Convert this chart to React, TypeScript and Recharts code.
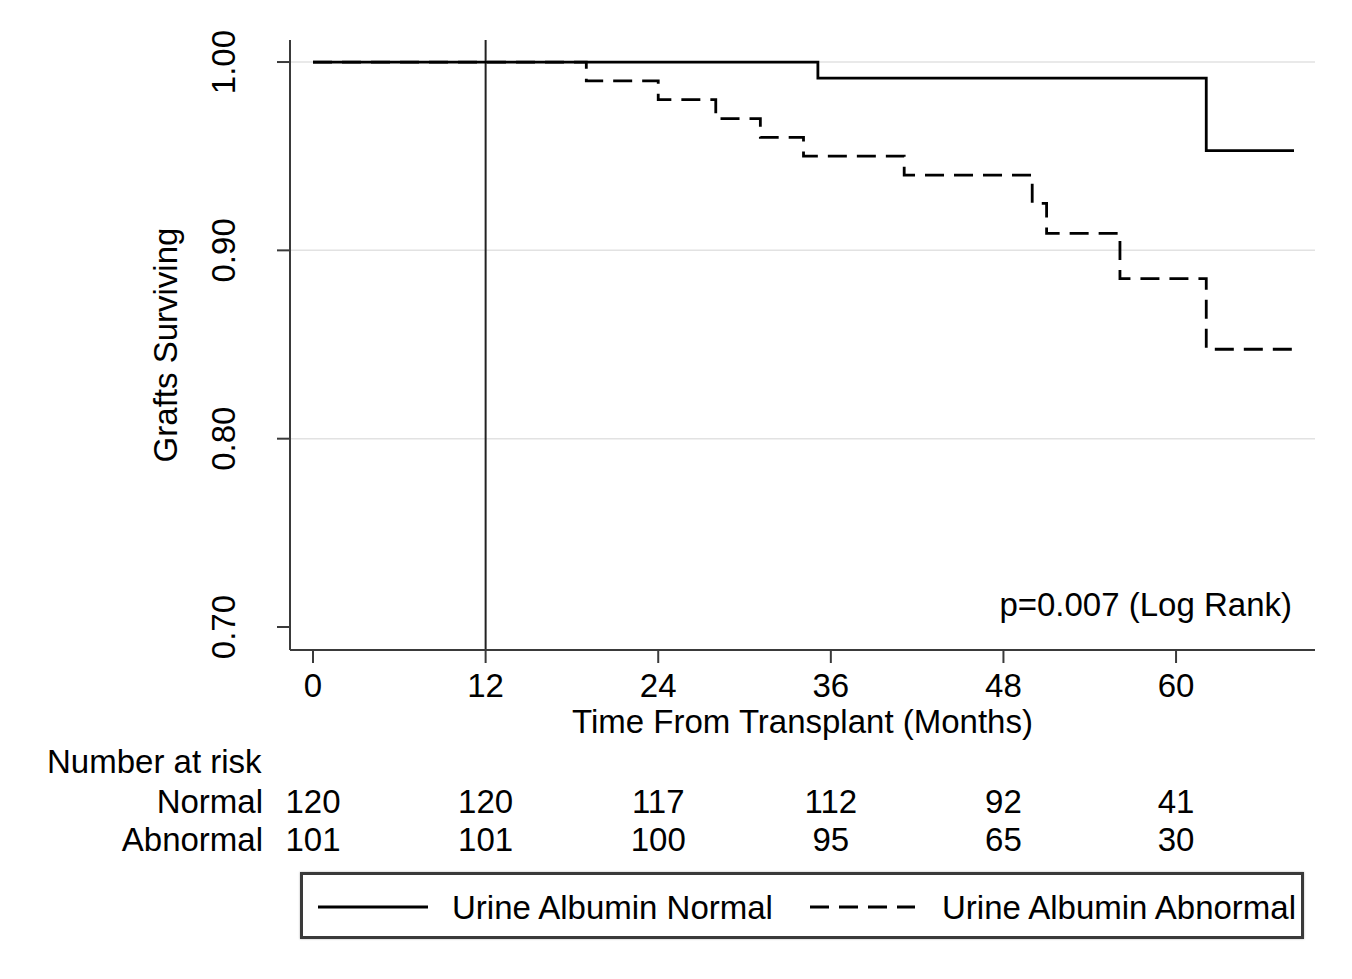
import React from "react";
import { LineChart, Line, XAxis, YAxis, ReferenceLine, Legend } from "recharts";

const monthTicks = [0, 12, 24, 36, 48, 60];
const survTicks = [0.7, 0.8, 0.9, 1.0];
const gridValues = [0.8, 0.9, 1.0];

const normalTimes = [0, 35.1, 62.1, 68.2];
const normalSurv = [1, 0.9915, 0.953, 0.953];

const abnormalTimes = [0, 19, 24, 28, 31.1, 34.1, 41.1, 50, 51, 56.1, 62.1, 68.2];
const abnormalSurv = [1, 0.99, 0.98, 0.97, 0.96, 0.95, 0.94, 0.925, 0.909, 0.885, 0.8475, 0.8475];

const riskNormal = [120, 120, 117, 112, 92, 41];
const riskAbnormal = [101, 101, 100, 95, 65, 30];
const riskRowLabels = ["Normal", "Abnormal"];

const seriesNames = ["Urine Albumin Normal", "Urine Albumin Abnormal"];

const normalData = normalTimes.map((t, i) => ({ t, s: normalSurv[i] }));
const abnormalData = abnormalTimes.map((t, i) => ({ t, s: abnormalSurv[i] }));

const FONT = '"Liberation Sans", Arial, Helvetica, sans-serif';
const FS = 33;
const CAP = 23.4;
const AXIS_COLOR = "#3a3a3a";
const LINE_W = 2.8;
const X_DOMAIN: [number, number] = [-1.6, 69.66];
const Y_DOMAIN: [number, number] = [0.6878, 1.0117];

const txt = (x: number, y: number, s: string | number, anchor: string = "middle") => (
  <text x={x} y={y} textAnchor={anchor as any} fontSize={FS} fontFamily={FONT} fill="#000">
    {s}
  </text>
);

const YTick = (props: any) => {
  const { x, y, payload } = props;
  return (
    <text
      x={x}
      y={y}
      transform={`rotate(-90 ${x} ${y})`}
      textAnchor="middle"
      fontSize={FS}
      fontFamily={FONT}
      fill="#000"
    >
      {Number(payload.value).toFixed(2)}
    </text>
  );
};

const XTick = (props: any) => {
  const { x, y, payload } = props;
  const idx = monthTicks.indexOf(payload.value);
  return (
    <g>
      {txt(x, y + CAP, payload.value)}
      {idx >= 0 && txt(x, y + 138.5, riskNormal[idx])}
      {idx >= 0 && txt(x, y + 177, riskAbnormal[idx])}
    </g>
  );
};

const LegendContent = () => (
  <div
    style={{
      width: 1004,
      height: 67,
      border: "3px solid #3a3a3a",
      boxSizing: "border-box",
      background: "#fff",
      boxShadow: "0 0 2px rgba(0,0,0,0.3)",
    }}
  >
    <svg width={998} height={61} style={{ display: "block" }}>
      <line x1={15} x2={125} y1={32} y2={32} stroke="#000" strokeWidth={LINE_W} />
      <text x={149} y={44} fontSize={FS} fontFamily={FONT} fill="#000">
        {seriesNames[0]}
      </text>
      <line x1={507} x2={612} y1={32} y2={32} stroke="#000" strokeWidth={LINE_W} strokeDasharray="19 10" />
      <text x={639} y={44} fontSize={FS} fontFamily={FONT} fill="#000">
        {seriesNames[1]}
      </text>
    </svg>
  </div>
);

export default function App() {
  return (
    <div style={{ position: "absolute", left: 0, top: 0, width: 1352, height: 979, background: "#fff" }}>
      <LineChart
        width={1352}
        height={979}
        margin={{ top: 40, right: 37, left: 10, bottom: 239 }}
        style={{ fontFamily: FONT }}
      >
        <XAxis
          dataKey="t"
          type="number"
          domain={X_DOMAIN}
          allowDataOverflow
          ticks={monthTicks}
          interval={0}
          height={90}
          tickSize={13}
          tickMargin={11}
          stroke={AXIS_COLOR}
          strokeWidth={2}
          tick={<XTick />}
          label={{
            content: (p: any) => {
              const vb = p.viewBox;
              return (
                <g>
                  {txt(vb.x + vb.width / 2, vb.y + 83, "Time From Transplant (Months)")}
                  {txt(vb.x + vb.width - 23, vb.y - 34, "p=0.007 (Log Rank)", "end")}
                  {txt(vb.x - 243, vb.y + 123, "Number at risk", "start")}
                  {txt(vb.x - 27, vb.y + 162.5, riskRowLabels[0], "end")}
                  {txt(vb.x - 27, vb.y + 201, riskRowLabels[1], "end")}
                </g>
              );
            },
          }}
        />
        <YAxis
          type="number"
          domain={Y_DOMAIN}
          allowDataOverflow
          ticks={survTicks}
          interval={0}
          width={280}
          tickSize={13}
          tickMargin={42}
          stroke={AXIS_COLOR}
          strokeWidth={2}
          tick={<YTick />}
          label={{
            content: (p: any) => {
              const vb = p.viewBox;
              const lx = vb.x + vb.width - 113;
              const ly = vb.y + vb.height / 2;
              return (
                <text
                  x={lx}
                  y={ly}
                  transform={`rotate(-90 ${lx} ${ly})`}
                  textAnchor="middle"
                  fontSize={FS}
                  fontFamily={FONT}
                  fill="#000"
                >
                  Grafts Surviving
                </text>
              );
            },
          }}
        />
        {gridValues.map((v) => (
          <ReferenceLine key={v} y={v} stroke="#e2e2e2" strokeWidth={1.5} />
        ))}
        <ReferenceLine x={12} stroke="#222" strokeWidth={2} />
        <Line
          data={abnormalData}
          dataKey="s"
          name={seriesNames[1]}
          type="stepAfter"
          stroke="#000"
          strokeWidth={LINE_W}
          strokeDasharray="19 10"
          dot={false}
          activeDot={false}
          isAnimationActive={false}
        />
        <Line
          data={normalData}
          dataKey="s"
          name={seriesNames[0]}
          type="stepAfter"
          stroke="#000"
          strokeWidth={LINE_W}
          dot={false}
          activeDot={false}
          isAnimationActive={false}
        />
        <Legend
          layout="horizontal"
          verticalAlign="middle"
          align="center"
          content={<LegendContent />}
          wrapperStyle={{ position: "absolute", left: 300, top: 872, width: 1004, height: 67 }}
        />
      </LineChart>
    </div>
  );
}
